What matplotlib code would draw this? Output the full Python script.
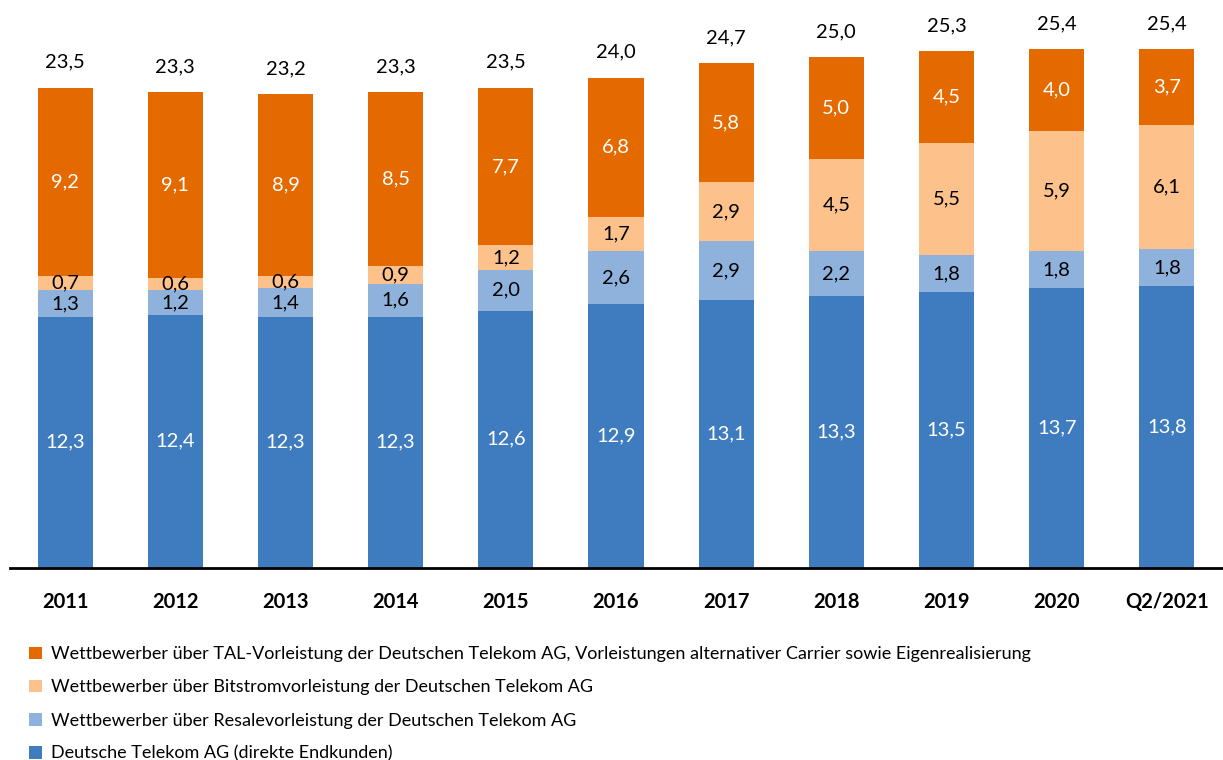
import numpy as np
import matplotlib
matplotlib.use('Agg')
from matplotlib import pyplot as plt
from matplotlib.patches import Patch

plt.rcParams['font.family'] = ['Lato', 'DejaVu Sans']

# Daten (Mio. Anschlüsse)
jahre = ['2011', '2012', '2013', '2014', '2015', '2016', '2017', '2018', '2019', '2020', 'Q2/2021']
telekom = [12.3, 12.4, 12.3, 12.3, 12.6, 12.9, 13.1, 13.3, 13.5, 13.7, 13.8]
resale = [1.3, 1.2, 1.4, 1.6, 2.0, 2.6, 2.9, 2.2, 1.8, 1.8, 1.8]
bitstrom = [0.7, 0.6, 0.6, 0.9, 1.2, 1.7, 2.9, 4.5, 5.5, 5.9, 6.1]
tal = [9.2, 9.1, 8.9, 8.5, 7.7, 6.8, 5.8, 5.0, 4.5, 4.0, 3.7]
gesamt = [23.5, 23.3, 23.2, 23.3, 23.5, 24.0, 24.7, 25.0, 25.3, 25.4, 25.4]

serien = [
    (telekom, '#3F7CBF', 'white', 'Deutsche Telekom AG (direkte Endkunden)'),
    (resale, '#8EB2DC', 'black', 'Wettbewerber über Resalevorleistung der Deutschen Telekom AG'),
    (bitstrom, '#FDC18C', 'black', 'Wettbewerber über Bitstromvorleistung der Deutschen Telekom AG'),
    (tal, '#E46A00', 'white', 'Wettbewerber über TAL-Vorleistung der Deutschen Telekom AG, '
                              'Vorleistungen alternativer Carrier sowie Eigenrealisierung'),
]

fig = plt.figure(figsize=(12.23, 7.6), dpi=100)
ax = fig.add_axes([10 / 1223, 192 / 760, 1212 / 1223, 551.6 / 760])

x = np.arange(len(jahre))
unten = np.zeros(len(jahre))
handles = []
for werte, farbe, tfarbe, name in serien:
    werte = np.array(werte)
    ax.bar(x, werte, width=0.5, bottom=unten, color=farbe, edgecolor='none')
    for xi, b, v in zip(x, unten, werte):
        ax.text(xi, b + v / 2, f'{v:.1f}'.replace('.', ','), ha='center', va='center',
                color=tfarbe, fontsize=14.5)
    unten = unten + werte
    handles.append(Patch(facecolor=farbe, edgecolor='none', label=name))

for xi, t in zip(x, gesamt):
    ax.text(xi, t + 1.25, f'{t:.1f}'.replace('.', ','), ha='center', va='center', fontsize=14.5)

ax.set_xlim(-0.5, 10.5)
ax.set_ylim(0, 27)
ax.set_xticks(x)
ax.set_xticklabels(jahre, fontsize=14.5, fontweight='bold')
ax.tick_params(axis='x', length=0, pad=17)
ax.set_yticks([])
for s in ['top', 'right', 'left']:
    ax.spines[s].set_visible(False)
ax.spines['bottom'].set_linewidth(2)

fig.legend(handles=handles[::-1], loc='upper left', bbox_to_anchor=(22 / 1223, 1 - 639 / 760),
           frameon=False, fontsize=13, handlelength=0.7, handleheight=0.7,
           handletextpad=0.5, labelspacing=0.95, borderaxespad=0)

fig.savefig('out.png', dpi=100)
